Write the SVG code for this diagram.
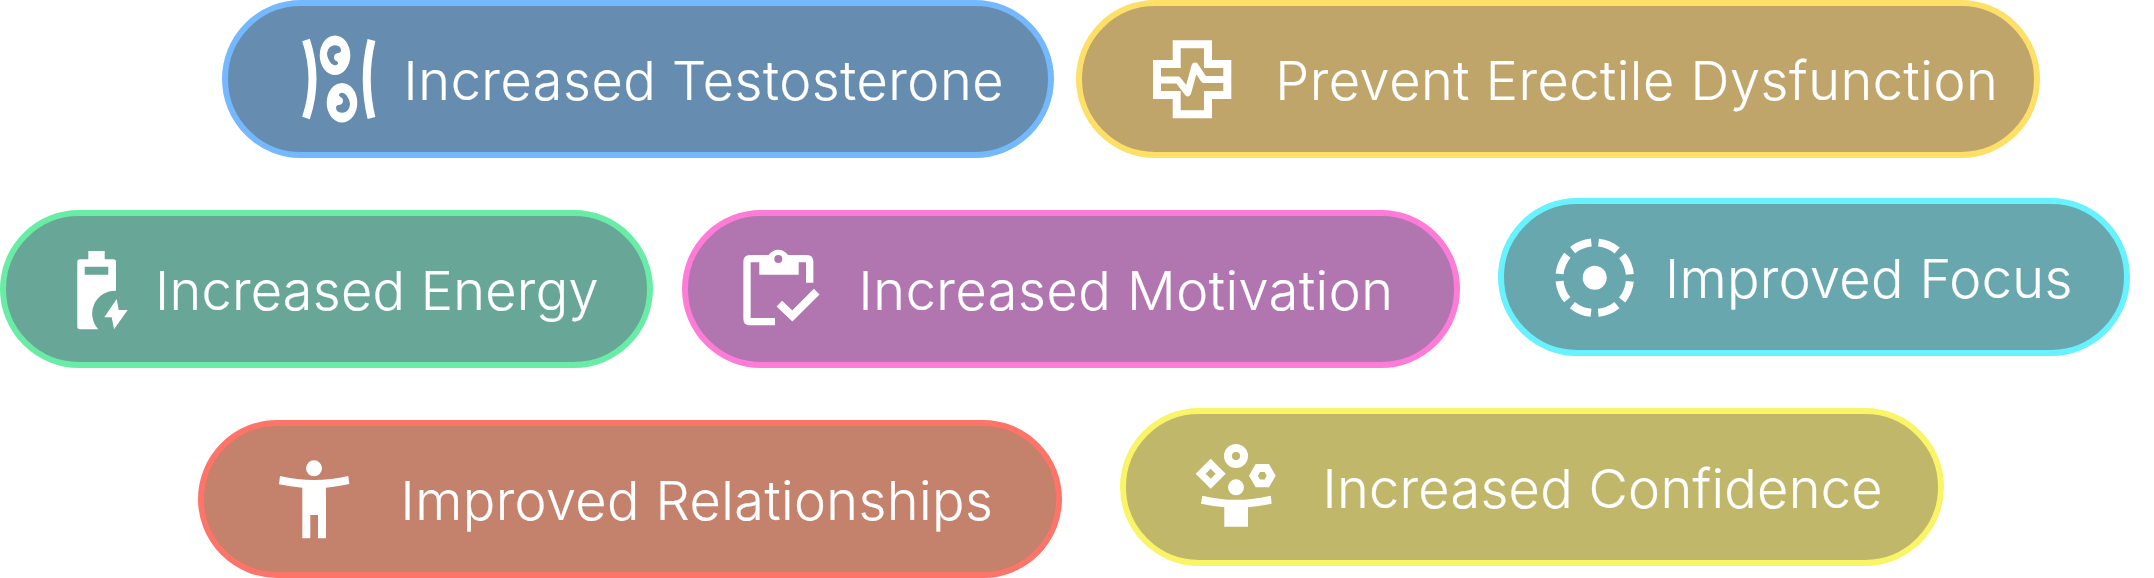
<svg xmlns="http://www.w3.org/2000/svg" width="2154" height="578" viewBox="0 0 2154 578">
<style>
.p{stroke-width:6}
text{font-family:"Inter","Liberation Sans",sans-serif;font-size:54px;font-weight:300;fill:#fff;stroke:#fff;stroke-width:0.2px}
.i{fill:#fff;stroke:none}
.l{fill:none;stroke:#fff}
</style>
<defs>
<path id="seed" fill-rule="evenodd" d="M-15.3 0a15.3 19.7 0 1 0 30.6 0a15.3 19.7 0 1 0 -30.6 0ZM-1 -10Q6 -10 6 -5Q6 -2 2 -2Q-1 -1 -1 2Q-1 5 2 6Q4 8 2 9.500Q-1 11 -4 8Q-8 3 -8 -2Q-7 -9 -1 -10Z"/>
</defs>
<rect width="2154" height="578" fill="#fff"/>
<g id="connectors"/>
<g id="node-testosterone">
<rect class="p" x="225" y="3" width="826" height="152" rx="76" fill="#668DB0" stroke="#74B9FF"/>
<path class="l" stroke-width="8" d="M306 40Q319 79 306 118"/>
<path class="l" stroke-width="8" d="M371.500 40Q362 79 371.500 118"/>
<use href="#seed" class="i" x="335" y="55.200"/>
<use href="#seed" class="i" transform="translate(342 102.800) rotate(180)"/>
<text x="403.600" y="100" letter-spacing="0.55">Increased Testosterone</text>
</g>
<g id="node-erectile">
<rect class="p" x="1079" y="3" width="958" height="152" rx="76" fill="#C0A56B" stroke="#FFE066"/>
<path class="l" stroke-width="8" d="M1176.700 44.300H1208V64H1227.300V95H1208V114.300H1176.700V95H1157V64H1176.700Z"/>
<path class="l" stroke-width="7" stroke-linejoin="round" d="M1157 80H1178L1187.700 92.700L1195 66L1204 79.500H1227"/>
<text x="1275.300" y="100" letter-spacing="0.55">Prevent Erectile Dysfunction</text>
</g>
<g id="node-energy">
<rect class="p" x="3" y="213" width="647" height="152" rx="76" fill="#68A797" stroke="#69EDA6"/>
<path class="i" fill-rule="evenodd" d="M88.300 251H104.700V259.300H113.500Q116 259.300 116 262V290.700A23 23 0 0 0 98.300 329.300H80Q77.300 329.300 77.300 326.500V262Q77.300 259.300 80 259.300H88.300ZM84.700 266.700V274.700H108.300V266.700Z"/>
<path class="i" d="M116.700 299L104.300 317.300H111.700L114 329.300L127.700 310H118.700Z"/>
<text x="155" y="310" letter-spacing="0.28">Increased Energy</text>
</g>
<g id="node-motivation">
<rect class="p" x="685" y="213" width="772" height="152" rx="76" fill="#B175AF" stroke="#FF7BD8"/>
<path class="l" stroke-width="7.300" d="M775 321.700H750Q747 321.700 747 318.700V262Q747 258.700 750 258.700H762"/>
<path class="l" stroke-width="7.300" d="M796 258.700H807Q809.700 258.700 809.700 262V282.700"/>
<path class="i" fill-rule="evenodd" d="M759.300 255H768.600A11.700 11.700 0 0 1 788 255H798.700V274.700H759.300ZM774.300 259A4 4 0 1 0 782.300 259A4 4 0 1 0 774.300 259Z"/>
<path class="l" stroke-width="8" d="M779.300 303.700L792.300 316L816.700 291.700"/>
<text x="858.600" y="310" letter-spacing="0.55">Increased Motivation</text>
</g>
<g id="node-focus">
<rect class="p" x="1501" y="201" width="626" height="152" rx="76" fill="#69A7AF" stroke="#66F2FF"/>
<circle class="l" stroke-width="8" cx="1594.700" cy="277.700" r="35.300" stroke-dasharray="20.420 7.300" stroke-dashoffset="-3.650"/>
<circle class="i" cx="1594.700" cy="277.700" r="12"/>
<text x="1665" y="298" letter-spacing="0.35">Improved Focus</text>
</g>
<g id="node-relationships">
<rect class="p" x="201" y="423" width="858" height="152" rx="76" fill="#C4816B" stroke="#FF7468"/>
<circle class="i" cx="314" cy="468.300" r="8"/>
<path class="i" d="M280 476Q314 484 348.300 476L349.300 484Q338 486.500 326 487.700V538.300H318V515H310.300V538.300H302.300V487.700Q290 486.500 279 484.300Z"/>
<text x="400.600" y="520" letter-spacing="0.42">Improved Relationships</text>
</g>
<g id="node-confidence">
<rect class="p" x="1123" y="411" width="818" height="152" rx="76" fill="#C0B76B" stroke="#FAF566"/>
<path class="i" fill-rule="evenodd" d="M1210.700 458.700L1225.700 473.700L1210.700 488.700L1195.700 473.700ZM1210.700 468.700L1205.700 473.700L1210.700 478.700L1215.700 473.700Z"/>
<path class="i" fill-rule="evenodd" d="M1224 456A12 12 0 1 0 1248 456A12 12 0 1 0 1224 456ZM1232 456A4 4 0 1 1 1240 456A4 4 0 1 1 1232 456Z"/>
<path class="i" fill-rule="evenodd" d="M1249 475.700L1255.700 464H1269L1275.700 475.700L1269 487.300H1255.700ZM1258 475.700L1260 479.500H1264.700L1266.700 475.700L1264.700 472H1260Z"/>
<circle class="i" cx="1236" cy="487.300" r="8"/>
<path class="i" d="M1202.300 495.700Q1236 504 1270.700 495.700L1271.700 503.700Q1260 506 1248 507.300V526.700H1224.300V507.300Q1212 506 1201 503.700Z"/>
<text x="1322.500" y="508" letter-spacing="0.3">Increased Confidence</text>
</g>
</svg>
